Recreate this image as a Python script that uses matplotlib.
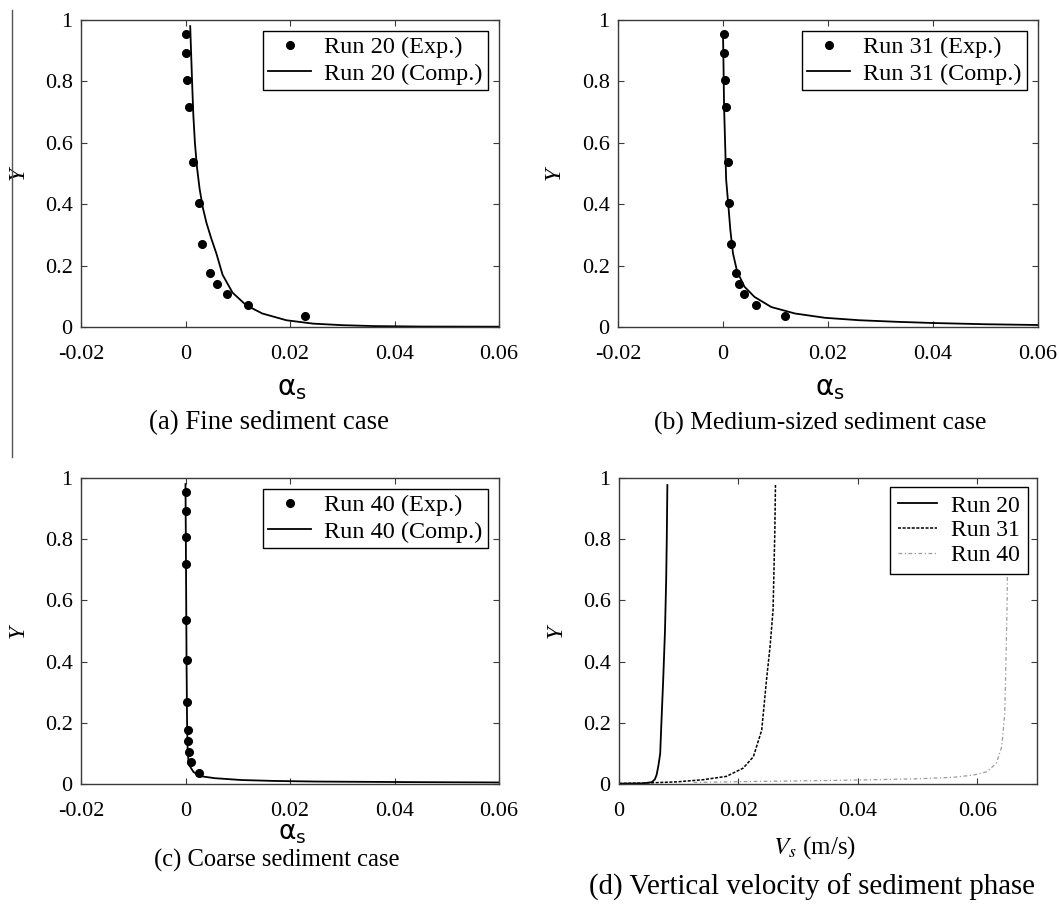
import matplotlib
matplotlib.use("Agg")
import matplotlib.pyplot as plt
from matplotlib.lines import Line2D

# ---------------- data ----------------
y_exp = [0.953, 0.893, 0.806, 0.718, 0.536, 0.405, 0.269, 0.175, 0.141, 0.106, 0.071, 0.036]

# (a) Run 20
a_exp_x = [0.0000, 0.0001, 0.0003, 0.0007, 0.0014, 0.0025, 0.0032, 0.0047, 0.0060, 0.0080, 0.0119, 0.0229]
a_comp_x = [0.0009, 0.0011, 0.0013, 0.0015, 0.0018, 0.0022, 0.0027, 0.0033, 0.0040, 0.0049, 0.0059,
            0.0071, 0.0090, 0.0116, 0.0147, 0.0193, 0.0244, 0.0300, 0.0360, 0.0450, 0.0600]
a_comp_y = [0.980, 0.880, 0.780, 0.690, 0.600, 0.520, 0.450, 0.390, 0.340, 0.290, 0.240,
            0.170, 0.112, 0.071, 0.044, 0.022, 0.011, 0.006, 0.003, 0.0015, 0.001]

# (b) Run 31
b_exp_x = [0.0001, 0.0002, 0.0003, 0.0005, 0.0009, 0.0012, 0.0016, 0.0024, 0.0030, 0.0040, 0.0062, 0.0119]
b_comp_x = [0.0000, 0.0001, 0.0002, 0.0004, 0.0006, 0.0010, 0.0014, 0.0019, 0.0027, 0.0041,
            0.0060, 0.0092, 0.0137, 0.0194, 0.0260, 0.0330, 0.0400, 0.0500, 0.0600]
b_comp_y = [0.960, 0.850, 0.720, 0.600, 0.480, 0.400, 0.316, 0.240, 0.180, 0.131,
            0.098, 0.065, 0.044, 0.030, 0.022, 0.017, 0.013, 0.009, 0.0065]

# (c) Run 40
c_exp_x = [0.0000, 0.0000, 0.0000, 0.0000, 0.0001, 0.0002, 0.0003, 0.0004, 0.0005, 0.0006, 0.0010, 0.0026]
c_comp_x = [0.0000, 0.0001, 0.0002, 0.0003, 0.0004, 0.0006, 0.0015, 0.0027, 0.0056, 0.0107,
            0.0170, 0.0250, 0.0350, 0.0450, 0.0600]
c_comp_y = [0.980, 0.700, 0.400, 0.200, 0.120, 0.065, 0.040, 0.026, 0.019, 0.013,
            0.010, 0.008, 0.007, 0.006, 0.005]

# (d) vertical velocity of sediment phase
d20_x = [0.0000, 0.0040, 0.0055, 0.0060, 0.0063, 0.0066, 0.0069, 0.0071, 0.0074, 0.0077, 0.0079, 0.0080, 0.0081]
d20_y = [0.001, 0.002, 0.006, 0.015, 0.030, 0.060, 0.100, 0.200, 0.340, 0.500, 0.667, 0.800, 0.977]
d31_x = [0.0000, 0.0041, 0.0097, 0.0141, 0.0180, 0.0208, 0.0225, 0.0239, 0.0247, 0.0253, 0.0258, 0.0261, 0.0262]
d31_y = [0.002, 0.003, 0.007, 0.014, 0.025, 0.052, 0.089, 0.176, 0.340, 0.450, 0.569, 0.830, 0.977]
d40_x = [0.0125, 0.0214, 0.0300, 0.0398, 0.0500, 0.0560, 0.0593, 0.0616, 0.0632, 0.0641, 0.0646, 0.0648, 0.0650, 0.0651, 0.0652]
d40_y = [0.005, 0.008, 0.010, 0.013, 0.017, 0.022, 0.029, 0.040, 0.068, 0.122, 0.231, 0.400, 0.600, 0.800, 0.960]

ticks_y = [0, 0.2, 0.4, 0.6, 0.8, 1]
ticks_y_lbl = ["0", "0.2", "0.4", "0.6", "0.8", "1"]
ticks_x_a = [-0.02, 0, 0.02, 0.04, 0.06]
ticks_x_a_lbl = ["-0.02", "0", "0.02", "0.04", "0.06"]
ticks_x_d = [0, 0.02, 0.04, 0.06]
ticks_x_d_lbl = ["0", "0.02", "0.04", "0.06"]

captions = ['(a) Fine sediment case', '(b) Medium-sized sediment case',
            '(c) Coarse sediment case', '(d) Vertical velocity of sediment phase']

# ---------------- figure ----------------
plt.rcParams['font.family'] = ['Liberation Serif', 'DejaVu Serif']
W, H = 1059, 907
fig = plt.figure(figsize=(W / 100, H / 100), dpi=100)


def px_axes(l, r, t, b):
    return fig.add_axes([l / W, 1 - b / H, (r - l) / W, (b - t) / H])


ax_a = px_axes(81, 499, 20, 327)
ax_b = px_axes(618, 1038, 20, 327)
ax_c = px_axes(81, 499, 478, 784)
ax_d = px_axes(619, 1037, 478, 784)

tick_fs = 16
spine_c = '#3a3a3a'


def style(ax, xt, xtl):
    ax.set_ylim(0, 1)
    ax.set_yticks(ticks_y)
    ax.set_yticklabels(ticks_y_lbl, fontsize=tick_fs)
    ax.set_xticks(xt)
    ax.set_xticklabels(xtl, fontsize=tick_fs)
    ax.tick_params(direction='in', top=True, right=True, length=4, width=0.8, color=spine_c)
    ax.tick_params(axis='x', pad=13)
    ax.tick_params(axis='y', pad=6)
    for s in ax.spines.values():
        s.set_color(spine_c)
        s.set_linewidth(1.0)
    ax.set_ylabel('Y', fontsize=17, style='italic')
    ax.yaxis.label.set_va('center')
    ax.yaxis.set_label_coords(-0.151, 0.5)


leg_kw = dict(loc='upper right', fontsize=17.5, frameon=True, fancybox=False,
              edgecolor='black', framealpha=1, borderpad=0.22, labelspacing=0.18,
              handlelength=1.75, handletextpad=0.55, borderaxespad=0.45)

panels = [
    (ax_a, a_exp_x, a_comp_x, a_comp_y, 'Run 20'),
    (ax_b, b_exp_x, b_comp_x, b_comp_y, 'Run 31'),
    (ax_c, c_exp_x, c_comp_x, c_comp_y, 'Run 40'),
]
for ax, ex, cx, cy, name in panels:
    ax.plot(ex, y_exp, 'o', color='black', markersize=5.5, label=f'{name} (Exp.)')
    ax.plot(cx, cy, '-', color='black', linewidth=1.3, label=f'{name} (Comp.)')
    ax.set_xlim(-0.02, 0.06)
    style(ax, ticks_x_a, ticks_x_a_lbl)
    ax.set_xlabel(r'$\mathrm{\alpha}_\mathsf{s}$', fontsize=20, math_fontfamily='dejavusans')
    ax.xaxis.label.set_va('center')
    ax.legend(**leg_kw)

ax_a.xaxis.set_label_coords(0.505, -0.205)
ax_b.xaxis.set_label_coords(0.505, -0.205)
ax_c.xaxis.set_label_coords(0.505, -0.163)
ax_c.xaxis.label.set_fontsize(19)

ax_d.plot(d20_x, d20_y, '-', color='black', linewidth=1.3, label='Run 20')
ax_d.plot(d31_x, d31_y, linestyle=(0, (2, 1)), color='black', linewidth=1.1, label='Run 31')
ax_d.plot(d40_x, d40_y, linestyle=(0, (3, 2, 1, 2)), color='#9a9a9a', linewidth=0.9, label='Run 40')
ax_d.set_xlim(0, 0.07)
style(ax_d, ticks_x_d, ticks_x_d_lbl)
ax_d.set_xlabel(r'$V_s$ (m/s)', fontsize=18, math_fontfamily='stix')
ax_d.xaxis.label.set_va('center')
ax_d.xaxis.set_label_coords(0.469, -0.209)
leg_d = dict(leg_kw)
leg_d.update(fontsize=17, borderpad=0.32, borderaxespad=0.4, handlelength=1.65,
             handletextpad=0.6, labelspacing=0.14)
ax_d.legend(**leg_d)

# captions
fig.text(269 / W, 1 - 423 / H, captions[0], ha='center', va='center', fontsize=19.3)
fig.text(820 / W, 1 - 423 / H, captions[1], ha='center', va='center', fontsize=18.4)
fig.text(277 / W, 1 - 860 / H, captions[2], ha='center', va='center', fontsize=17.7)
fig.text(812 / W, 1 - 887 / H, captions[3], ha='center', va='center', fontsize=20.8)

# stray vertical rule at left edge of the scan
fig.add_artist(Line2D([12 / W, 12 / W], [1 - 10 / H, 1 - 457 / H], color='#555555', linewidth=1.0))

fig.savefig('out.png', dpi=100)
